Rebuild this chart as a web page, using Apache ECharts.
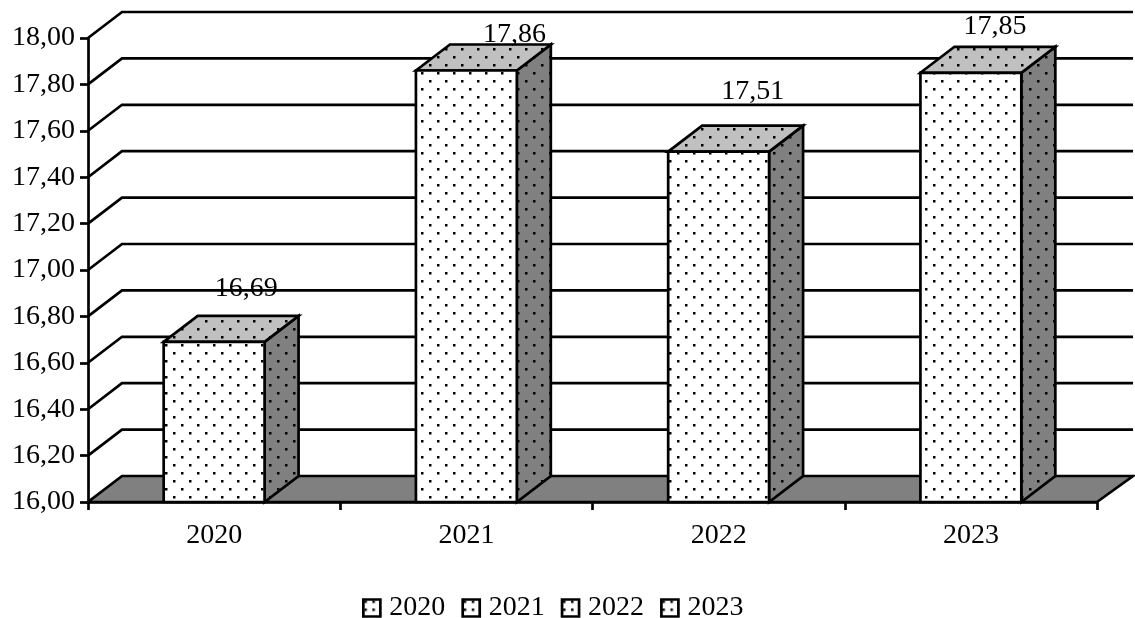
<!DOCTYPE html>
<html>
<head>
<meta charset="utf-8">
<style>html,body{margin:0;padding:0;background:#fff}#c{width:1135px;height:618px}</style>
<script src="https://cdn.jsdelivr.net/npm/echarts@6/dist/echarts.min.js"></script>
</head>
<body>
<div id="c"></div>
<script>
const years = ['2020', '2021', '2022', '2023'];
const values = [16.69, 17.86, 17.51, 17.85];
const valueLabels = ['16,69', '17,86', '17,51', '17,85'];
const wallTicks = [16, 16.2, 16.4, 16.6, 16.8, 17, 17.2, 17.4, 17.6, 17.8, 18];

// Manual placement of the value labels relative to the bar's top-front centre
const labelShift = [[32, -53], [48, -36], [34, -60], [24, -46]];

const DEPTH_X = 34, DEPTH_Y = -26, BAR_RATIO = 0.4;
const LINE = 2.7;
const FONT = '"Liberation Serif", "Times New Roman", serif';

// Staggered dot fill used on every bar face
function dotted(bg, size, points) {
  const cv = document.createElement('canvas');
  cv.width = size; cv.height = size;
  const g = cv.getContext('2d');
  g.fillStyle = bg;
  g.fillRect(0, 0, size, size);
  g.fillStyle = '#000';
  points.forEach(p => g.fillRect(p[0], p[1], 2.5, 2.5));
  return { image: cv, repeat: 'repeat' };
}
const dots = [[5, 8], [13, 0]];
const frontFill = dotted('#ffffff', 16, dots);
const topFill = dotted('#c0c0c0', 16, dots);
const sideFill = dotted('#808080', 16, dots);
const legendFill = dotted('#ffffff', 8, [[1, 1]]);

const edge = { stroke: '#000', lineWidth: LINE, lineJoin: 'miter' };

// Back wall lines and the floor of the 3D box
function renderWalls(params, api) {
  const v = api.value(0);
  const a = api.coord([0, v]);
  const left = params.coordSys.x, right = left + params.coordSys.width;
  const y = a[1];
  const children = [];
  if (params.dataIndex === 0) {
    children.push({
      type: 'polygon',
      shape: { points: [[left, y], [right, y], [right + DEPTH_X + 2, y + DEPTH_Y], [left + DEPTH_X, y + DEPTH_Y]] },
      style: { fill: '#808080', stroke: '#000', lineWidth: LINE }
    });
  } else {
    children.push({
      type: 'polyline',
      shape: { points: [[left, y], [left + DEPTH_X, y + DEPTH_Y], [right + DEPTH_X + 2, y + DEPTH_Y]] },
      style: { fill: null, stroke: '#000', lineWidth: LINE }
    });
  }
  return { type: 'group', children };
}

// One extruded bar with its value label
function renderBar(params, api) {
  const base = api.coord([api.value(0), 16]);
  const top = api.coord([api.value(0), api.value(1)]);
  const w = api.size([1, 0])[0] * BAR_RATIO;
  const l = base[0] - w / 2, r = base[0] + w / 2;
  const t = top[1], b = base[1];
  const shift = labelShift[params.seriesIndex - 1];
  return {
    type: 'group',
    children: [
      { type: 'polygon', shape: { points: [[r, t], [r + DEPTH_X, t + DEPTH_Y], [r + DEPTH_X, b + DEPTH_Y], [r, b]] },
        style: Object.assign({ fill: sideFill }, edge) },
      { type: 'polygon', shape: { points: [[l, t], [l + DEPTH_X, t + DEPTH_Y], [r + DEPTH_X, t + DEPTH_Y], [r, t]] },
        style: Object.assign({ fill: topFill }, edge) },
      { type: 'rect', shape: { x: l, y: t, width: w, height: b - t },
        style: Object.assign({ fill: frontFill }, edge) },
      { type: 'text', x: base[0] + shift[0], y: t + shift[1],
        style: { text: valueLabels[params.seriesIndex - 1], fill: '#000', font: '28px ' + FONT, align: 'center', verticalAlign: 'middle' } }
    ]
  };
}

const chart = echarts.init(document.getElementById('c'), null, { renderer: 'canvas' });
chart.setOption({
  animation: false,
  backgroundColor: '#fff',
  grid: { left: 88, top: 38, width: 1009, height: 464, containLabel: false },
  xAxis: {
    type: 'category',
    data: years,
    boundaryGap: true,
    axisLine: { show: true, onZero: false, lineStyle: { color: '#000', width: LINE } },
    axisTick: { show: true, alignWithLabel: false, length: 8, lineStyle: { color: '#000', width: LINE } },
    axisLabel: { color: '#000', fontFamily: FONT, fontSize: 28, margin: 20 },
    z: 5
  },
  yAxis: {
    type: 'value',
    min: 16,
    max: 18,
    interval: 0.2,
    splitLine: { show: false },
    axisLine: { show: true, lineStyle: { color: '#000', width: LINE } },
    axisTick: { show: true, length: 8, lineStyle: { color: '#000', width: LINE } },
    axisLabel: { color: '#000', fontFamily: FONT, fontSize: 28, margin: 13, padding: [4, 0, 0, 0],
      formatter: v => v.toFixed(2).replace('.', ',') }
  },
  legend: {
    top: 589,
    left: 357,
    itemWidth: 17,
    itemHeight: 17,
    itemGap: 16,
    selectedMode: false,
    textStyle: { color: '#000', fontFamily: FONT, fontSize: 28, padding: [2, 0, 0, 4] },
    data: years.map(name => ({
      name,
      icon: 'rect',
      itemStyle: { color: legendFill, borderColor: '#000', borderWidth: 2.7 }
    }))
  },
  series: [
    {
      type: 'custom',
      name: 'walls',
      coordinateSystem: 'cartesian2d',
      renderItem: renderWalls,
      data: wallTicks.map(v => [v]),
      encode: { y: 0 },
      silent: true,
      z: 1
    }
  ].concat(years.map((name, i) => ({
    type: 'custom',
    name,
    coordinateSystem: 'cartesian2d',
    renderItem: renderBar,
    data: [[i, values[i]]],
    encode: { x: 0, y: 1 },
    itemStyle: { color: '#fff', borderColor: '#000' },
    z: 3
  })))
});
</script>
</body>
</html>
